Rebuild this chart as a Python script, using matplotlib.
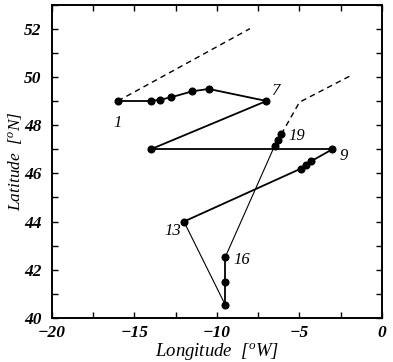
import matplotlib.pyplot as plt
from matplotlib.ticker import MultipleLocator

# pozycje kolejnych punktow trasy (dlugosc, szerokosc)
lon = [-16.0, -14.0, -13.45, -12.8, -11.5, -10.5, -7.0,
       -14.0, -3.0, -4.3, -4.6, -4.9,
       -12.0, -9.5, -9.5, -9.5,
       -6.5, -6.3, -6.1]
lat = [49.0, 49.0, 49.05, 49.15, 49.4, 49.5, 49.0,
       47.0, 47.0, 46.5, 46.35, 46.2,
       44.0, 40.55, 41.5, 42.52,
       47.15, 47.4, 47.62]

# linie przerywane
dash1_lon = [-16.0, -8.0]
dash1_lat = [49.0, 52.0]
dash2_lon = [-6.1, -5.0, -1.9]
dash2_lat = [47.62, 48.95, 50.05]

# numery punktow
label_text = ['1', '7', '9', '13', '16', '19']
label_lon = [-16.0, -6.45, -2.3, -12.65, -8.5, -5.15]
label_lat = [48.1, 49.4, 46.72, 43.6, 42.4, 47.55]

# odcinki rysowane cienka linia (13->14, 16->17)
thin_legs = [12, 15]

plt.rcParams['font.family'] = ['Liberation Serif', 'DejaVu Serif']
plt.rcParams['mathtext.fontset'] = 'custom'
plt.rcParams['mathtext.rm'] = 'Liberation Serif'
plt.rcParams['mathtext.it'] = 'Liberation Serif:italic'

fig = plt.figure(figsize=(3.93, 3.62), dpi=100)
ax = fig.add_axes([0.132, 0.1215, 0.84, 0.866])

for i in range(len(lon) - 1):
    lw = 0.8 if i in thin_legs else 1.3
    ax.plot(lon[i:i + 2], lat[i:i + 2], 'k-', lw=lw)
ax.plot(lon, lat, 'ko', ms=4.8, ls='none')

ax.plot(dash1_lon, dash1_lat, 'k--', lw=1.0, dashes=(4, 3))
ax.plot(dash2_lon, dash2_lat, 'k--', lw=1.0, dashes=(4, 3))

for t, x, y in zip(label_text, label_lon, label_lat):
    ax.text(x, y, t, fontsize=12, style='italic', ha='center', va='center')

ax.set_xlim(-20, 0)
ax.set_ylim(40, 53)
ax.xaxis.set_major_locator(MultipleLocator(5))
ax.xaxis.set_minor_locator(MultipleLocator(2.5))
ax.yaxis.set_major_locator(MultipleLocator(2))
ax.yaxis.set_minor_locator(MultipleLocator(1))
ax.tick_params(which='both', direction='in', top=True, right=True,
               length=4.5, width=1.0)
ax.tick_params(axis='x', pad=5)
ax.tick_params(axis='y', pad=7.5)
for s in ax.spines.values():
    s.set_linewidth(1.4)

for lab in ax.get_xticklabels() + ax.get_yticklabels():
    lab.set_fontstyle('italic')
    lab.set_fontweight('bold')
    lab.set_fontsize(12.5)

ax.set_xlabel('Longitude  [$^o$W]', fontsize=13.5, style='italic', labelpad=0)
ax.set_ylabel('Latitude  [$^o$N]', fontsize=12.5, style='italic')
ax.yaxis.set_label_coords(-0.085, 0.5)

fig.savefig('out.png', dpi=100)
